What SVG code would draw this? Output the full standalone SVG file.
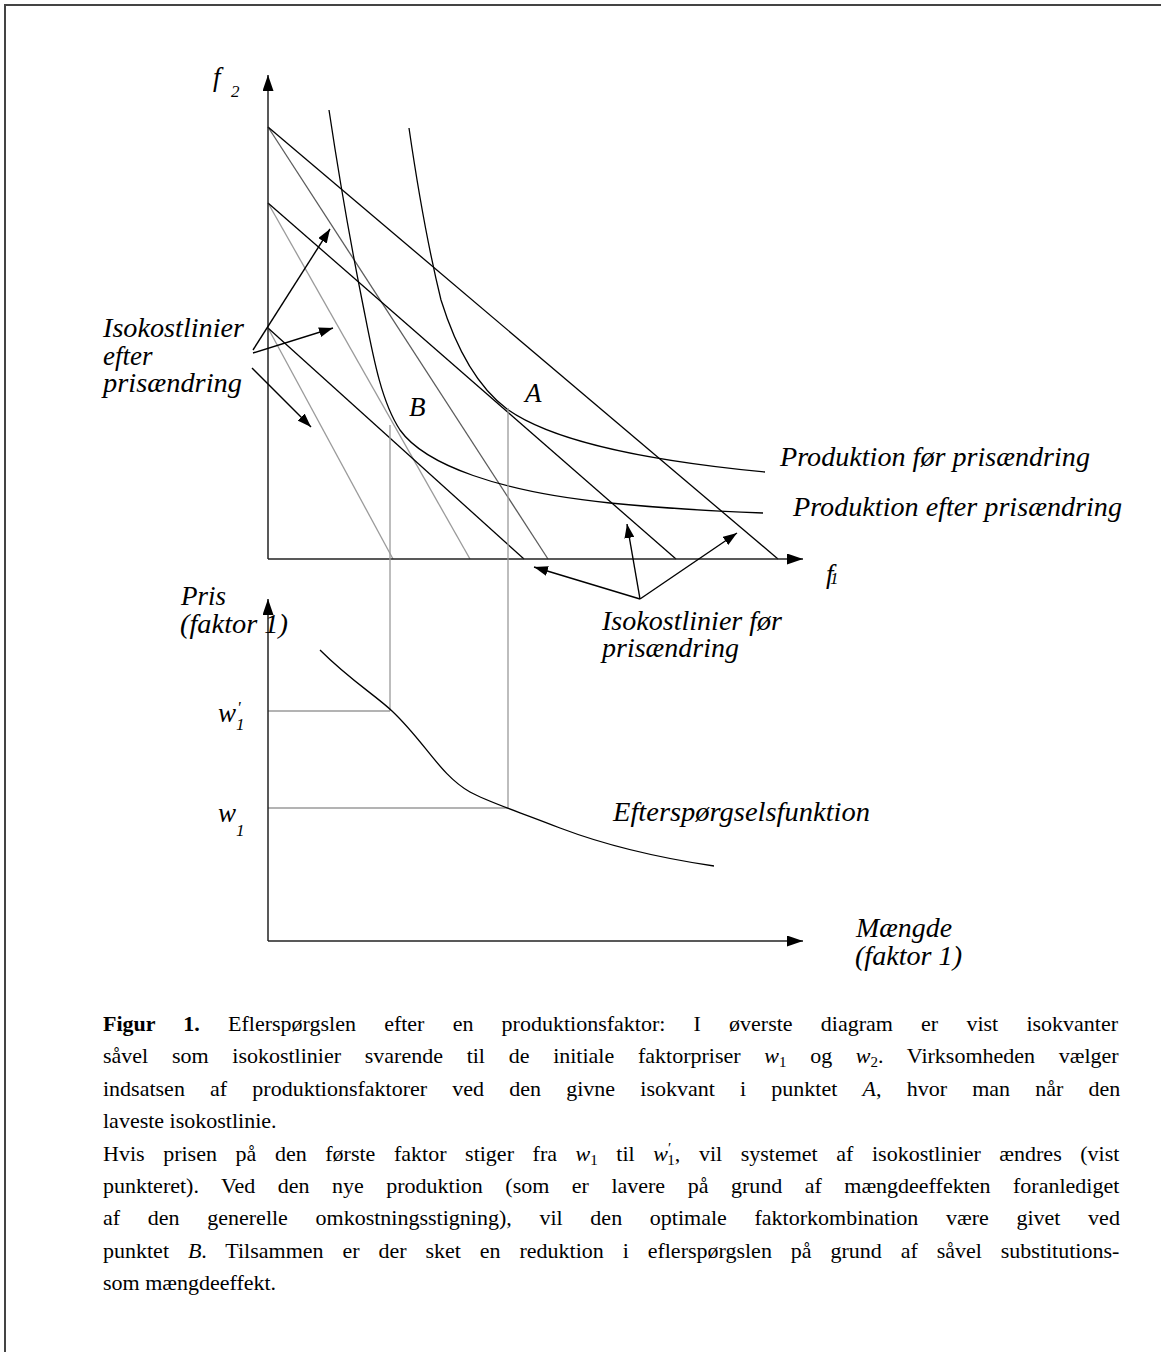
<svg xmlns="http://www.w3.org/2000/svg" width="1161" height="1352" viewBox="0 0 1161 1352">
<style>
.ax{stroke:#222;stroke-width:1.5;fill:none}
.blk{stroke:#000;stroke-width:1.3;fill:none}
.g1{stroke:#5c5c5c;stroke-width:1.3;fill:none}
.g2{stroke:#9a9a9a;stroke-width:1.3;fill:none}
.arr{stroke:#000;stroke-width:1.4;fill:none}
.lbl{font-family:"Liberation Serif","Times New Roman",serif;font-style:italic;font-size:27px;fill:#000}
.sub{font-family:"Liberation Serif","Times New Roman",serif;font-style:italic;font-size:17px;fill:#000}
.cap{font-family:"Liberation Serif","Times New Roman",serif;font-size:22px;fill:#000}
.it{font-style:italic}
</style>
<defs>
<marker id="ah" viewBox="0 0 14 10" refX="14" refY="5" markerWidth="14" markerHeight="10" markerUnits="userSpaceOnUse" orient="auto"><path d="M0,0 L14,5 L0,10 z" fill="#000"/></marker>
<marker id="axh" viewBox="0 0 16 11" refX="16" refY="5.5" markerWidth="16" markerHeight="11" markerUnits="userSpaceOnUse" orient="auto"><path d="M0,0 L16,5.5 L0,11 z" fill="#000"/></marker>
</defs>
<rect width="1161" height="1352" fill="#fff"/>
<path d="M5,1352 V5 H1161" stroke="#444" stroke-width="2" fill="none"/>

<g id="top-chart">
  <g id="isocost-lines">
    <line class="g2" x1="268" y1="203" x2="470" y2="559"/>
    <line class="g2" x1="268" y1="328" x2="393" y2="559"/>
    <line class="g1" x1="268" y1="127" x2="548" y2="559"/>
    <line class="blk" x1="268" y1="127" x2="778" y2="559"/>
    <line class="blk" x1="268" y1="203" x2="676" y2="559"/>
    <line class="blk" x1="268" y1="328" x2="524" y2="559"/>
  </g>
  <g id="isoquants">
    <path id="isoquant-A" class="blk" d="M409,128 C418,190 430,255 441,300 C455,345 475,385 507,409 C545,436 620,458 765,472"/>
    <path id="isoquant-B" class="blk" d="M329,110 C338,170 350,240 362,300 C372,350 380,400 400,430 C425,465 500,492 610,503 C660,508 710,511 763,513"/>
  </g>
  <g id="top-axes">
    <line class="ax" x1="268" y1="559" x2="268" y2="75" marker-end="url(#axh)"/>
    <line class="ax" x1="268" y1="559" x2="803" y2="559" marker-end="url(#axh)"/>
  </g>
  <g id="top-labels">
    <text class="lbl" x="213" y="86" font-size="28">f</text>
    <text class="sub" x="231" y="97">2</text>
    <text class="lbl" x="826" y="583">f</text>
    <text class="sub" x="830" y="584" font-size="20">1</text>
    <text class="lbl" x="525" y="402">A</text>
    <text class="lbl" x="409" y="416">B</text>
    <text class="lbl" x="780" y="466" textLength="310" lengthAdjust="spacingAndGlyphs">Produktion før prisændring</text>
    <text class="lbl" x="793" y="516" textLength="329" lengthAdjust="spacingAndGlyphs">Produktion efter prisændring</text>
  </g>
</g>

<g id="label-isokost-efter">
  <text class="lbl" x="103" y="337" textLength="141" lengthAdjust="spacingAndGlyphs">Isokostlinier</text>
  <text class="lbl" x="103" y="365">efter</text>
  <text class="lbl" x="103" y="392" textLength="139" lengthAdjust="spacingAndGlyphs">prisændring</text>
</g>
<g id="label-isokost-foer">
  <text class="lbl" x="602" y="630" textLength="180" lengthAdjust="spacingAndGlyphs">Isokostlinier før</text>
  <text class="lbl" x="602" y="657" textLength="137" lengthAdjust="spacingAndGlyphs">prisændring</text>
</g>

<g id="connectors">
  <line class="arr" x1="253" y1="350" x2="330" y2="229" marker-end="url(#ah)"/>
  <line class="arr" x1="253" y1="353" x2="333" y2="328" marker-end="url(#ah)"/>
  <line class="arr" x1="252" y1="368" x2="311" y2="427" marker-end="url(#ah)"/>
  <line class="arr" x1="640" y1="599" x2="534" y2="567" marker-end="url(#ah)"/>
  <line class="arr" x1="640" y1="599" x2="627" y2="524" marker-end="url(#ah)"/>
  <line class="arr" x1="640" y1="599" x2="737" y2="533" marker-end="url(#ah)"/>
</g>

<g id="drop-lines">
  <line class="g2" x1="390" y1="425" x2="390" y2="711"/>
  <line class="g2" x1="508" y1="408" x2="508" y2="808"/>
  <line class="g2" x1="268" y1="711" x2="390" y2="711"/>
  <line class="g2" x1="268" y1="808" x2="508" y2="808"/>
</g>

<g id="bottom-chart">
  <path id="demand-curve" class="blk" d="M320,650 C350,680 375,695 392,711 C425,742 440,775 470,792 C490,803 520,812 560,828 C610,847 660,858 714,866"/>
  <line class="ax" x1="268" y1="941" x2="268" y2="599" marker-end="url(#axh)"/>
  <line class="ax" x1="268" y1="941" x2="803" y2="941" marker-end="url(#axh)"/>
  <text class="lbl" x="181" y="605">Pris</text>
  <text class="lbl" x="180" y="633" textLength="108" lengthAdjust="spacingAndGlyphs">(faktor 1)</text>
  <text class="lbl" x="218" y="722" font-size="26">w</text>
  <text class="sub" x="237" y="713" font-style="normal" font-size="16">'</text>
  <text class="sub" x="236" y="730" font-size="15">1</text>
  <text class="lbl" x="218" y="822" font-size="26">w</text>
  <text class="sub" x="236" y="836" font-size="15">1</text>
  <text class="lbl" x="613" y="821" textLength="257" lengthAdjust="spacingAndGlyphs">Efterspørgselsfunktion</text>
  <text class="lbl" x="856" y="937" textLength="96" lengthAdjust="spacingAndGlyphs">Mængde</text>
  <text class="lbl" x="855" y="965" textLength="107" lengthAdjust="spacingAndGlyphs">(faktor 1)</text>
</g>

<g id="caption">
  <text class="cap" x="103" y="1031" word-spacing="22.7"><tspan font-weight="bold">Figur 1.</tspan> Eflerspørgslen efter en produktionsfaktor: I øverste diagram er vist isokvanter</text>
  <text class="cap" x="103" y="1063" word-spacing="18.2">såvel som isokostlinier svarende til de initiale faktorpriser <tspan class="it">w</tspan><tspan font-size="15" dy="4">1</tspan><tspan dy="-4"> og </tspan><tspan class="it">w</tspan><tspan font-size="15" dy="4">2</tspan><tspan dy="-4">. Virksomheden vælger</tspan></text>
  <text class="cap" x="103" y="1096" word-spacing="19.7">indsatsen af produktionsfaktorer ved den givne isokvant i punktet <tspan class="it">A</tspan>, hvor man når den</text>
  <text class="cap" x="103" y="1128">laveste isokostlinie.</text>
  <text class="cap" x="103" y="1161" word-spacing="13.1">Hvis prisen på den første faktor stiger fra <tspan class="it">w</tspan><tspan font-size="15" dy="4">1</tspan><tspan dy="-4"> til </tspan><tspan class="it">w</tspan><tspan font-size="15" dy="-8">′</tspan><tspan font-size="15" dx="-4" dy="12">1</tspan><tspan dy="-4">, vil systemet af isokostlinier ændres (vist</tspan></text>
  <text class="cap" x="103" y="1193" word-spacing="17">punkteret). Ved den nye produktion (som er lavere på grund af mængdeeffekten foranlediget</text>
  <text class="cap" x="103" y="1225" word-spacing="22.2">af den generelle omkostningsstigning), vil den optimale faktorkombination være givet ved</text>
  <text class="cap" x="103" y="1258" word-spacing="13.4">punktet <tspan class="it">B</tspan>. Tilsammen er der sket en reduktion i eflerspørgslen på grund af såvel substitutions-</text>
  <text class="cap" x="103" y="1290">som mængdeeffekt.</text>
</g>
</svg>
